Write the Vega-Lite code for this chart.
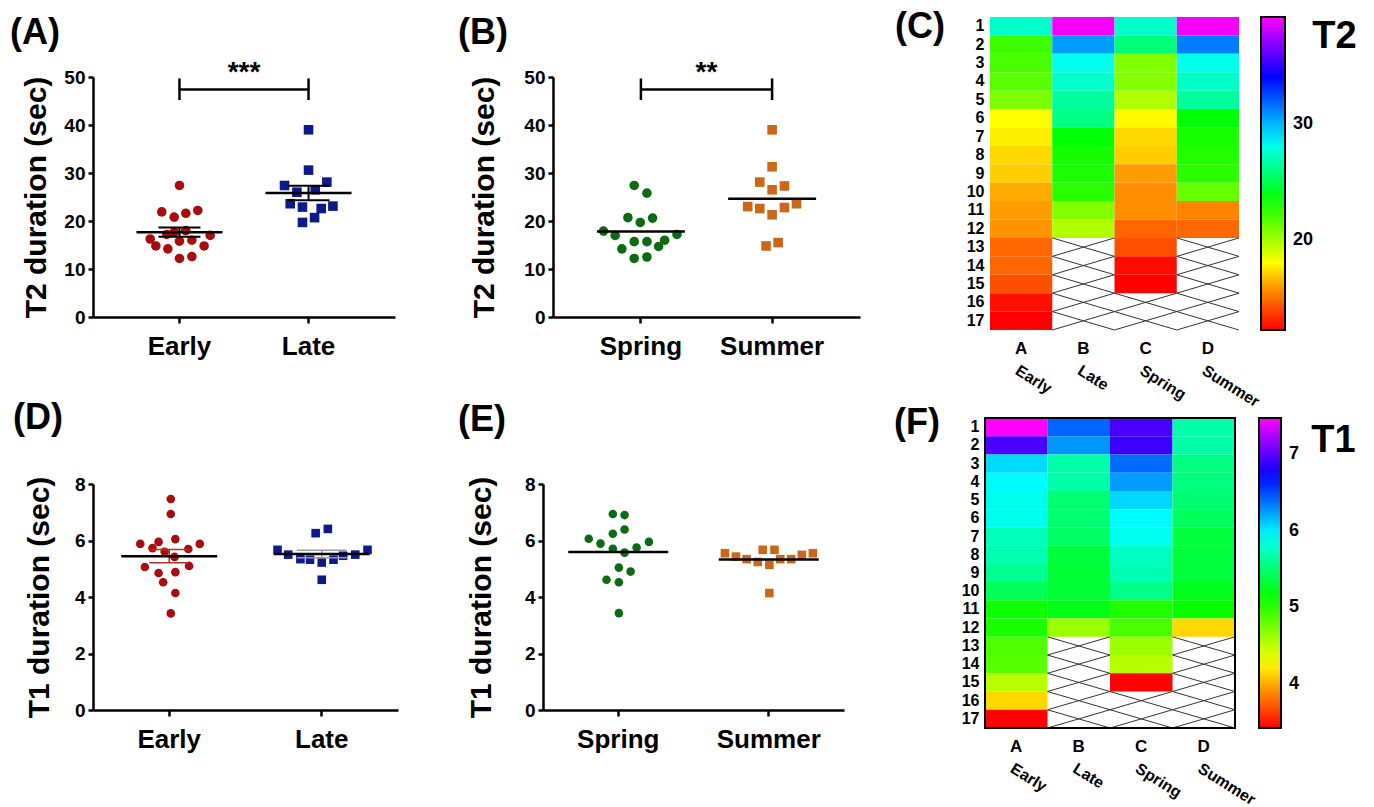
{
  "$schema": "https://vega.github.io/schema/vega-lite/v6.json",
  "background": "white",
  "padding": {"left": 10, "top": 9, "right": 5, "bottom": 0},
  "datasets": {
    "pts": [
      {"m":"T2","g":"Early","dx":0,"v":27.4},{"m":"T2","g":"Early","dx":-0.137,"v":21.9},{"m":"T2","g":"Early","dx":-0.041,"v":20.8},{"m":"T2","g":"Early","dx":0.049,"v":21.6},{"m":"T2","g":"Early","dx":0.142,"v":22.2},{"m":"T2","g":"Early","dx":-0.041,"v":17.7},{"m":"T2","g":"Early","dx":0.049,"v":18.0},{"m":"T2","g":"Early","dx":0.238,"v":17.0},{"m":"T2","g":"Early","dx":-0.227,"v":16.25},{"m":"T2","g":"Early","dx":0.096,"v":16.0},{"m":"T2","g":"Early","dx":0,"v":15.8},{"m":"T2","g":"Early","dx":-0.183,"v":14.8},{"m":"T2","g":"Early","dx":0.191,"v":14.8},{"m":"T2","g":"Early","dx":-0.09,"v":14.2},{"m":"T2","g":"Early","dx":0.096,"v":12.6},{"m":"T2","g":"Early","dx":0,"v":12.2},{"m":"T2","g":"Early","dx":-0.098,"v":17.2},
      {"m":"T2","g":"Late","dx":0,"v":39.0},{"m":"T2","g":"Late","dx":0,"v":30.6},{"m":"T2","g":"Late","dx":-0.186,"v":27.4},{"m":"T2","g":"Late","dx":0.142,"v":28.1},{"m":"T2","g":"Late","dx":-0.09,"v":26.0},{"m":"T2","g":"Late","dx":0.052,"v":26.5},{"m":"T2","g":"Late","dx":-0.142,"v":23.6},{"m":"T2","g":"Late","dx":-0.047,"v":22.9},{"m":"T2","g":"Late","dx":0.098,"v":22.6},{"m":"T2","g":"Late","dx":0.189,"v":23.1},{"m":"T2","g":"Late","dx":-0.047,"v":19.7},{"m":"T2","g":"Late","dx":0.047,"v":20.7},
      {"m":"T2","g":"Spring","dx":-0.051,"v":27.4},{"m":"T2","g":"Spring","dx":0.046,"v":25.8},{"m":"T2","g":"Spring","dx":-0.099,"v":20.7},{"m":"T2","g":"Spring","dx":-0.005,"v":19.7},{"m":"T2","g":"Spring","dx":0.089,"v":20.6},{"m":"T2","g":"Spring","dx":-0.285,"v":17.9},{"m":"T2","g":"Spring","dx":-0.196,"v":17.0},{"m":"T2","g":"Spring","dx":-0.051,"v":15.7},{"m":"T2","g":"Spring","dx":0.046,"v":15.7},{"m":"T2","g":"Spring","dx":0.181,"v":16.0},{"m":"T2","g":"Spring","dx":0.275,"v":17.2},{"m":"T2","g":"Spring","dx":-0.145,"v":14.2},{"m":"T2","g":"Spring","dx":0.135,"v":14.7},{"m":"T2","g":"Spring","dx":-0.051,"v":12.2},{"m":"T2","g":"Spring","dx":0.046,"v":12.5},
      {"m":"T2","g":"Summer","dx":0,"v":39.0},{"m":"T2","g":"Summer","dx":0,"v":31.3},{"m":"T2","g":"Summer","dx":-0.094,"v":28.1},{"m":"T2","g":"Summer","dx":0.094,"v":27.3},{"m":"T2","g":"Summer","dx":0,"v":26.5},{"m":"T2","g":"Summer","dx":-0.186,"v":23.0},{"m":"T2","g":"Summer","dx":-0.094,"v":22.6},{"m":"T2","g":"Summer","dx":0.094,"v":22.8},{"m":"T2","g":"Summer","dx":0.186,"v":23.6},{"m":"T2","g":"Summer","dx":0,"v":21.3},{"m":"T2","g":"Summer","dx":-0.046,"v":14.8},{"m":"T2","g":"Summer","dx":0.046,"v":15.5},
      {"m":"T1","g":"Early","dx":0.01,"v":7.47},{"m":"T1","g":"Early","dx":0.01,"v":6.94},{"m":"T1","g":"Early","dx":0.04,"v":6.05},{"m":"T1","g":"Early","dx":-0.07,"v":5.95},{"m":"T1","g":"Early","dx":-0.19,"v":5.88},{"m":"T1","g":"Early","dx":0.2,"v":5.88},{"m":"T1","g":"Early","dx":-0.11,"v":5.73},{"m":"T1","g":"Early","dx":0.125,"v":5.70},{"m":"T1","g":"Early","dx":-0.03,"v":5.60},{"m":"T1","g":"Early","dx":0.035,"v":5.42},{"m":"T1","g":"Early","dx":0.13,"v":5.10},{"m":"T1","g":"Early","dx":-0.16,"v":5.06},{"m":"T1","g":"Early","dx":0.04,"v":4.88},{"m":"T1","g":"Early","dx":-0.07,"v":4.85},{"m":"T1","g":"Early","dx":-0.04,"v":4.52},{"m":"T1","g":"Early","dx":0.04,"v":4.14},{"m":"T1","g":"Early","dx":0.01,"v":3.42},
      {"m":"T1","g":"Late","dx":0.04,"v":6.41},{"m":"T1","g":"Late","dx":-0.04,"v":6.26},{"m":"T1","g":"Late","dx":-0.29,"v":5.67},{"m":"T1","g":"Late","dx":0.3,"v":5.67},{"m":"T1","g":"Late","dx":-0.22,"v":5.50},{"m":"T1","g":"Late","dx":-0.14,"v":5.34},{"m":"T1","g":"Late","dx":-0.077,"v":5.32},{"m":"T1","g":"Late","dx":0,"v":5.22},{"m":"T1","g":"Late","dx":0.077,"v":5.32},{"m":"T1","g":"Late","dx":0.14,"v":5.46},{"m":"T1","g":"Late","dx":0.22,"v":5.50},{"m":"T1","g":"Late","dx":0,"v":4.61},
      {"m":"T1","g":"Spring","dx":-0.036,"v":6.94},{"m":"T1","g":"Spring","dx":0.042,"v":6.90},{"m":"T1","g":"Spring","dx":0.042,"v":6.39},{"m":"T1","g":"Spring","dx":-0.036,"v":6.24},{"m":"T1","g":"Spring","dx":-0.196,"v":6.06},{"m":"T1","g":"Spring","dx":-0.118,"v":5.89},{"m":"T1","g":"Spring","dx":0.204,"v":5.95},{"m":"T1","g":"Spring","dx":-0.036,"v":5.71},{"m":"T1","g":"Spring","dx":0.122,"v":5.75},{"m":"T1","g":"Spring","dx":0.042,"v":5.57},{"m":"T1","g":"Spring","dx":0.004,"v":5.04},{"m":"T1","g":"Spring","dx":0.082,"v":4.90},{"m":"T1","g":"Spring","dx":-0.078,"v":4.61},{"m":"T1","g":"Spring","dx":0.004,"v":4.52},{"m":"T1","g":"Spring","dx":0.004,"v":3.43},
      {"m":"T1","g":"Summer","dx":-0.291,"v":5.55},{"m":"T1","g":"Summer","dx":-0.218,"v":5.43},{"m":"T1","g":"Summer","dx":-0.147,"v":5.34},{"m":"T1","g":"Summer","dx":-0.073,"v":5.24},{"m":"T1","g":"Summer","dx":-0.04,"v":5.67},{"m":"T1","g":"Summer","dx":0.038,"v":5.67},{"m":"T1","g":"Summer","dx":0.004,"v":5.14},{"m":"T1","g":"Summer","dx":0.076,"v":5.34},{"m":"T1","g":"Summer","dx":0.149,"v":5.34},{"m":"T1","g":"Summer","dx":0.22,"v":5.49},{"m":"T1","g":"Summer","dx":0.293,"v":5.55},{"m":"T1","g":"Summer","dx":0.004,"v":4.14}
    ],
    "miss": [
      {"g":"Late","r":13},{"g":"Late","r":14},{"g":"Late","r":15},{"g":"Late","r":16},{"g":"Late","r":17},
      {"g":"Spring","r":16},{"g":"Spring","r":17},
      {"g":"Summer","r":13},{"g":"Summer","r":14},{"g":"Summer","r":15},{"g":"Summer","r":16},{"g":"Summer","r":17}
    ],
    "brk": [
      {"p":"A","g":"Early","lo":45.2,"hi":49.7,"y":47.4},{"p":"A","g":"Late","lo":45.2,"hi":49.7,"y":47.4},
      {"p":"B","g":"Spring","lo":45.2,"hi":49.7,"y":47.4},{"p":"B","g":"Summer","lo":45.2,"hi":49.7,"y":47.4}
    ]
  },
  "vconcat": [
    {
      "hconcat": [
        {
          "hconcat": [
            {
              "width": 302, "height": 240,
              "title": {"text": "(A)", "dx": -83, "offset": 7},
              "layer": [
                {
                  "data": {"name": "pts"},
                  "transform": [{"filter": "datum.m == 'T2' && (datum.g == 'Early' || datum.g == 'Late')"}],
                  "mark": {"type": "point", "filled": true, "opacity": 1, "size": 92, "strokeWidth": 0},
                  "encoding": {
                    "x": {"field": "g", "type": "nominal", "title": null, "scale": {"domain": ["Early","Late"], "paddingInner": 0, "paddingOuter": 0.17},
                          "axis": {"labelAngle": 0, "labelFontSize": 26, "tickSize": 6, "tickWidth": 2.5, "domainWidth": 2.5, "labelPadding": 10}},
                    "xOffset": {"field": "dx", "type": "quantitative", "scale": {"domain": [-0.5, 0.5]}},
                    "y": {"field": "v", "type": "quantitative", "title": "T2 duration (sec)", "scale": {"domain": [0, 50], "nice": false},
                          "axis": {"values": [0,10,20,30,40,50], "tickSize": 5, "tickWidth": 2.5, "domainWidth": 2.5, "labelFontSize": 19, "labelPadding": 3, "titleFontSize": 30, "titlePadding": 12}},
                    "color": {"field": "g", "type": "nominal", "scale": {"domain": ["Early","Late","Spring","Summer"], "range": ["#a80c0c","#0c1a8a","#0b6a12","#cc6618"]}, "legend": null},
                    "shape": {"field": "g", "type": "nominal", "scale": {"domain": ["Early","Late","Spring","Summer"], "range": ["circle","square","circle","square"]}, "legend": null}
                  }
                },
                {
                  "data": {"name": "pts"},
                  "transform": [{"filter": "datum.m == 'T2' && (datum.g == 'Early' || datum.g == 'Late')"}],
                  "mark": {"type": "errorbar", "extent": "stderr", "ticks": true, "size": 42, "thickness": 2, "color": "black", "opacity": 1},
                  "encoding": {
                    "x": {"field": "g", "type": "nominal", "title": null},
                    "y": {"field": "v", "type": "quantitative", "title": "T2 duration (sec)"}
                  }
                },
                {
                  "data": {"name": "pts"},
                  "transform": [{"filter": "datum.m == 'T2' && (datum.g == 'Early' || datum.g == 'Late')"}],
                  "mark": {"type": "tick", "orient": "horizontal", "size": 86, "thickness": 2.5, "color": "black", "opacity": 1},
                  "encoding": {
                    "x": {"field": "g", "type": "nominal", "title": null},
                    "y": {"aggregate": "mean", "field": "v", "type": "quantitative", "title": "T2 duration (sec)"}
                  }
                },
                {
                  "data": {"name": "brk"},
                  "transform": [{"filter": "datum.p == 'A'"}],
                  "mark": {"type": "rule", "strokeWidth": 2.5, "color": "black"},
                  "encoding": {
                    "x": {"field": "g", "type": "nominal", "title": null},
                    "y": {"field": "lo", "type": "quantitative", "title": "T2 duration (sec)"},
                    "y2": {"field": "hi"}
                  }
                },
                {
                  "data": {"name": "brk"},
                  "transform": [{"filter": "datum.p == 'A'"}],
                  "mark": {"type": "line", "strokeWidth": 2.5, "color": "black"},
                  "encoding": {
                    "x": {"field": "g", "type": "nominal", "title": null},
                    "y": {"field": "y", "type": "quantitative", "title": "T2 duration (sec)"}
                  }
                },
                {
                  "data": {"values": [{"t": "***"}]},
                  "mark": {"type": "text", "fontSize": 28, "fontWeight": "bold", "baseline": "middle", "color": "black"},
                  "encoding": {
                    "x": {"datum": "Late", "type": "nominal", "bandPosition": 0, "title": null},
                    "y": {"datum": 50.8, "type": "quantitative", "title": "T2 duration (sec)"},
                    "text": {"field": "t"}
                  }
                }
              ]
            },
            {
              "width": 307, "height": 240,
              "title": {"text": "(B)", "dx": -95, "offset": 7},
              "layer": [
                {
                  "data": {"name": "pts"},
                  "transform": [{"filter": "datum.m == 'T2' && (datum.g == 'Spring' || datum.g == 'Summer')"}],
                  "mark": {"type": "point", "filled": true, "opacity": 1, "size": 92, "strokeWidth": 0},
                  "encoding": {
                    "x": {"field": "g", "type": "nominal", "title": null, "scale": {"domain": ["Spring","Summer"], "paddingInner": 0, "paddingOuter": 0.17},
                          "axis": {"labelAngle": 0, "labelFontSize": 26, "tickSize": 6, "tickWidth": 2.5, "domainWidth": 2.5, "labelPadding": 10}},
                    "xOffset": {"field": "dx", "type": "quantitative", "scale": {"domain": [-0.5, 0.5]}},
                    "y": {"field": "v", "type": "quantitative", "title": "T2 duration (sec)", "scale": {"domain": [0, 50], "nice": false},
                          "axis": {"values": [0,10,20,30,40,50], "tickSize": 5, "tickWidth": 2.5, "domainWidth": 2.5, "labelFontSize": 19, "labelPadding": 3, "titleFontSize": 30, "titlePadding": 24}},
                    "color": {"field": "g", "type": "nominal", "scale": {"domain": ["Early","Late","Spring","Summer"], "range": ["#a80c0c","#0c1a8a","#0b6a12","#cc6618"]}, "legend": null},
                    "shape": {"field": "g", "type": "nominal", "scale": {"domain": ["Early","Late","Spring","Summer"], "range": ["circle","square","circle","square"]}, "legend": null}
                  }
                },
                {
                  "data": {"name": "pts"},
                  "transform": [{"filter": "datum.m == 'T2' && (datum.g == 'Spring' || datum.g == 'Summer')"}],
                  "mark": {"type": "tick", "orient": "horizontal", "size": 88, "thickness": 2.5, "color": "black", "opacity": 1},
                  "encoding": {
                    "x": {"field": "g", "type": "nominal", "title": null},
                    "y": {"aggregate": "mean", "field": "v", "type": "quantitative", "title": "T2 duration (sec)"}
                  }
                },
                {
                  "data": {"name": "brk"},
                  "transform": [{"filter": "datum.p == 'B'"}],
                  "mark": {"type": "rule", "strokeWidth": 2.5, "color": "black"},
                  "encoding": {
                    "x": {"field": "g", "type": "nominal", "title": null},
                    "y": {"field": "lo", "type": "quantitative", "title": "T2 duration (sec)"},
                    "y2": {"field": "hi"}
                  }
                },
                {
                  "data": {"name": "brk"},
                  "transform": [{"filter": "datum.p == 'B'"}],
                  "mark": {"type": "line", "strokeWidth": 2.5, "color": "black"},
                  "encoding": {
                    "x": {"field": "g", "type": "nominal", "title": null},
                    "y": {"field": "y", "type": "quantitative", "title": "T2 duration (sec)"}
                  }
                },
                {
                  "data": {"values": [{"t": "**"}]},
                  "mark": {"type": "text", "fontSize": 28, "fontWeight": "bold", "baseline": "middle", "color": "black"},
                  "encoding": {
                    "x": {"datum": "Summer", "type": "nominal", "bandPosition": 0, "title": null},
                    "y": {"datum": 50.8, "type": "quantitative", "title": "T2 duration (sec)"},
                    "text": {"field": "t"}
                  }
                }
              ]
            }
          ],
          "spacing": 63,
          "resolve": {"scale": {"color": "independent", "shape": "independent", "xOffset": "independent"}}
        },
        {
          "title": {"text": "(C)", "dx": -95, "offset": -29},
          "hconcat": [
            {
              "width": 249, "height": 253,
              "title": {"text": "T2", "anchor": "end", "frame": "bounds", "fontSize": 38, "offset": -39, "dx": 95},
              "layer": [
                {
                  "data": {"name": "pts"},
                  "transform": [{"filter": "datum.m == 'T2'"}, {"window": [{"op": "row_number", "as": "rank"}], "groupby": ["g"], "sort": [{"field": "v", "order": "descending"}]}],
                  "mark": {"type": "rect"},
                  "encoding": {
                    "x": {"field": "g", "type": "nominal", "title": null, "scale": {"domain": ["Early","Late","Spring","Summer"], "paddingInner": 0, "paddingOuter": 0},
                          "axis": {"orient": "bottom", "labelExpr": "datum.value == 'Early' ? 'A' : datum.value == 'Late' ? 'B' : datum.value == 'Spring' ? 'C' : 'D'", "labelAngle": 0, "labelFontSize": 17, "labelPadding": 10, "ticks": false, "domain": false}},
                    "y": {"field": "rank", "type": "ordinal", "title": null, "scale": {"domain": [1,2,3,4,5,6,7,8,9,10,11,12,13,14,15,16,17], "range": [-60, 253], "paddingInner": 0, "paddingOuter": 0},
                          "axis": {"labelFontSize": 16, "labelPadding": 6, "ticks": false, "domain": false, "labelAngle": 0}},
                    "color": {"field": "v", "type": "quantitative",
                              "scale": {"domain": [12.2, 15.4, 18.0, 23.5, 28.4, 34.1, 39.2], "range": ["#ff0000","#ff8000","#ffff00","#00ff00","#00ffff","#0000ff","#ff00ff"], "interpolate": "rgb"},
                              "legend": {"title": null, "orient": "none", "legendX": 271, "legendY": -60, "padding": 0, "direction": "vertical", "gradientLength": 313, "gradientThickness": 24, "gradientStrokeColor": "black", "gradientStrokeWidth": 2, "values": [20, 30], "labelFontSize": 18, "labelOffset": 8}}
                  }
                },
                {
                  "data": {"name": "miss"},
                  "mark": {"type": "rule", "color": "#333333", "strokeWidth": 1},
                  "encoding": {
                    "x": {"field": "g", "type": "nominal", "bandPosition": 0, "title": null, "axis": null},
                    "x2": {"field": "g", "bandPosition": 1},
                    "y": {"field": "r", "type": "ordinal", "bandPosition": 0, "title": null},
                    "y2": {"field": "r", "bandPosition": 1}
                  }
                },
                {
                  "data": {"name": "miss"},
                  "mark": {"type": "rule", "color": "#333333", "strokeWidth": 1},
                  "encoding": {
                    "x": {"field": "g", "type": "nominal", "bandPosition": 0, "title": null,
                          "axis": {"orient": "bottom", "offset": 32, "labelAngle": 32, "labelAlign": "left", "labelBaseline": "top", "labelFontSize": 16, "labelPadding": 0, "ticks": false, "domain": false}},
                    "x2": {"field": "g", "bandPosition": 1},
                    "y": {"field": "r", "type": "ordinal", "bandPosition": 1, "title": null},
                    "y2": {"field": "r", "bandPosition": 0}
                  }
                }
              ],
              "resolve": {"axis": {"x": "independent"}}
            }
          ]
        }
      ],
      "spacing": 35,
      "resolve": {"scale": {"color": "independent", "shape": "independent", "xOffset": "independent"}, "legend": {"color": "independent"}}
    },
    {
      "hconcat": [
        {
          "hconcat": [
            {
              "width": 305, "height": 226,
              "title": {"text": "(D)", "dx": -80, "offset": 38},
              "layer": [
                {
                  "data": {"name": "pts"},
                  "transform": [{"filter": "datum.m == 'T1' && (datum.g == 'Early' || datum.g == 'Late')"}],
                  "mark": {"type": "point", "filled": true, "opacity": 1, "size": 74, "strokeWidth": 0},
                  "encoding": {
                    "x": {"field": "g", "type": "nominal", "title": null, "scale": {"domain": ["Early","Late"], "paddingInner": 0, "paddingOuter": 0},
                          "axis": {"labelAngle": 0, "labelFontSize": 26, "tickSize": 6, "tickWidth": 2.5, "domainWidth": 2.5, "labelPadding": 10}},
                    "xOffset": {"field": "dx", "type": "quantitative", "scale": {"domain": [-0.5, 0.5]}},
                    "y": {"field": "v", "type": "quantitative", "title": "T1 duration (sec)", "scale": {"domain": [0, 8], "nice": false},
                          "axis": {"values": [0,2,4,6,8], "tickSize": 5, "tickWidth": 2.5, "domainWidth": 2.5, "labelFontSize": 19, "labelPadding": 3, "titleFontSize": 30, "titlePadding": 20}},
                    "color": {"field": "g", "type": "nominal", "scale": {"domain": ["Early","Late","Spring","Summer"], "range": ["#a80c0c","#0c1a8a","#0b6a12","#cc6618"]}, "legend": null},
                    "shape": {"field": "g", "type": "nominal", "scale": {"domain": ["Early","Late","Spring","Summer"], "range": ["circle","square","circle","square"]}, "legend": null}
                  }
                },
                {
                  "data": {"name": "pts"},
                  "transform": [{"filter": "datum.m == 'T1' && datum.g == 'Early'"}],
                  "mark": {"type": "errorbar", "extent": "stderr", "ticks": true, "size": 40, "thickness": 1.5, "color": "#b0302a", "opacity": 1},
                  "encoding": {
                    "x": {"field": "g", "type": "nominal", "title": null},
                    "y": {"field": "v", "type": "quantitative", "title": "T1 duration (sec)"}
                  }
                },
                {
                  "data": {"name": "pts"},
                  "transform": [{"filter": "datum.m == 'T1' && datum.g == 'Late'"}],
                  "mark": {"type": "errorbar", "extent": "stderr", "ticks": true, "size": 50, "thickness": 1.5, "color": "#9a9aa8", "opacity": 1},
                  "encoding": {
                    "x": {"field": "g", "type": "nominal", "title": null},
                    "y": {"field": "v", "type": "quantitative", "title": "T1 duration (sec)"}
                  }
                },
                {
                  "data": {"name": "pts"},
                  "transform": [{"filter": "datum.m == 'T1' && (datum.g == 'Early' || datum.g == 'Late')"}],
                  "mark": {"type": "tick", "orient": "horizontal", "size": 96, "thickness": 2.5, "color": "black", "opacity": 1},
                  "encoding": {
                    "x": {"field": "g", "type": "nominal", "title": null},
                    "y": {"aggregate": "mean", "field": "v", "type": "quantitative", "title": "T1 duration (sec)"}
                  }
                }
              ]
            },
            {
              "width": 301, "height": 226,
              "title": {"text": "(E)", "dx": -85, "offset": 36},
              "layer": [
                {
                  "data": {"name": "pts"},
                  "transform": [{"filter": "datum.m == 'T1' && (datum.g == 'Spring' || datum.g == 'Summer')"}],
                  "mark": {"type": "point", "filled": true, "opacity": 1, "size": 74, "strokeWidth": 0},
                  "encoding": {
                    "x": {"field": "g", "type": "nominal", "title": null, "scale": {"domain": ["Spring","Summer"], "paddingInner": 0, "paddingOuter": 0},
                          "axis": {"labelAngle": 0, "labelFontSize": 26, "tickSize": 6, "tickWidth": 2.5, "domainWidth": 2.5, "labelPadding": 10}},
                    "xOffset": {"field": "dx", "type": "quantitative", "scale": {"domain": [-0.5, 0.5]}},
                    "y": {"field": "v", "type": "quantitative", "title": "T1 duration (sec)", "scale": {"domain": [0, 8], "nice": false},
                          "axis": {"values": [0,2,4,6,8], "tickSize": 5, "tickWidth": 2.5, "domainWidth": 2.5, "labelFontSize": 19, "labelPadding": 3, "titleFontSize": 30, "titlePadding": 28}},
                    "color": {"field": "g", "type": "nominal", "scale": {"domain": ["Early","Late","Spring","Summer"], "range": ["#a80c0c","#0c1a8a","#0b6a12","#cc6618"]}, "legend": null},
                    "shape": {"field": "g", "type": "nominal", "scale": {"domain": ["Early","Late","Spring","Summer"], "range": ["circle","square","circle","square"]}, "legend": null}
                  }
                },
                {
                  "data": {"name": "pts"},
                  "transform": [{"filter": "datum.m == 'T1' && (datum.g == 'Spring' || datum.g == 'Summer')"}],
                  "mark": {"type": "tick", "orient": "horizontal", "size": 100, "thickness": 2.5, "color": "black", "opacity": 1},
                  "encoding": {
                    "x": {"field": "g", "type": "nominal", "title": null},
                    "y": {"aggregate": "mean", "field": "v", "type": "quantitative", "title": "T1 duration (sec)"}
                  }
                }
              ]
            }
          ],
          "spacing": 60,
          "resolve": {"scale": {"color": "independent", "shape": "independent", "xOffset": "independent"}}
        },
        {
          "title": {"text": "(F)", "dx": -91, "offset": -25},
          "hconcat": [
            {
              "width": 250, "height": 244,
              "title": {"text": "T1", "anchor": "end", "frame": "bounds", "fontSize": 38, "offset": -43, "dx": 98},
              "layer": [
                {
                  "data": {"name": "pts"},
                  "transform": [{"filter": "datum.m == 'T1'"}, {"window": [{"op": "row_number", "as": "rank"}], "groupby": ["g"], "sort": [{"field": "v", "order": "descending"}]}],
                  "mark": {"type": "rect"},
                  "encoding": {
                    "x": {"field": "g", "type": "nominal", "title": null, "scale": {"domain": ["Early","Late","Spring","Summer"], "paddingInner": 0, "paddingOuter": 0},
                          "axis": {"orient": "bottom", "labelExpr": "datum.value == 'Early' ? 'A' : datum.value == 'Late' ? 'B' : datum.value == 'Spring' ? 'C' : 'D'", "labelAngle": 0, "labelFontSize": 17, "labelPadding": 10, "ticks": false, "domain": false}},
                    "y": {"field": "rank", "type": "ordinal", "title": null, "scale": {"domain": [1,2,3,4,5,6,7,8,9,10,11,12,13,14,15,16,17], "range": [-66, 244], "paddingInner": 0, "paddingOuter": 0},
                          "axis": {"labelFontSize": 16, "labelPadding": 6, "ticks": false, "domain": false, "labelAngle": 0}},
                    "color": {"field": "v", "type": "quantitative",
                              "scale": {"domain": [3.42, 3.85, 4.27, 5.15, 5.94, 6.72, 7.47], "range": ["#ff0000","#ff8000","#ffff00","#00ff00","#00ffff","#0000ff","#ff00ff"], "interpolate": "rgb"},
                              "legend": {"title": null, "orient": "none", "legendX": 274, "legendY": -66, "padding": 0, "direction": "vertical", "gradientLength": 310, "gradientThickness": 22, "gradientStrokeColor": "black", "gradientStrokeWidth": 2, "values": [4, 5, 6, 7], "format": "d", "labelFontSize": 18, "labelOffset": 8}}
                  }
                },
                {
                  "data": {"name": "miss"},
                  "mark": {"type": "rule", "color": "#333333", "strokeWidth": 1},
                  "encoding": {
                    "x": {"field": "g", "type": "nominal", "bandPosition": 0, "title": null, "axis": null},
                    "x2": {"field": "g", "bandPosition": 1},
                    "y": {"field": "r", "type": "ordinal", "bandPosition": 0, "title": null},
                    "y2": {"field": "r", "bandPosition": 1}
                  }
                },
                {
                  "data": {"name": "miss"},
                  "mark": {"type": "rule", "color": "#333333", "strokeWidth": 1},
                  "encoding": {
                    "x": {"field": "g", "type": "nominal", "bandPosition": 0, "title": null,
                          "axis": {"orient": "bottom", "offset": 32, "labelAngle": 32, "labelAlign": "left", "labelBaseline": "top", "labelFontSize": 16, "labelPadding": 0, "ticks": false, "domain": false}},
                    "x2": {"field": "g", "bandPosition": 1},
                    "y": {"field": "r", "type": "ordinal", "bandPosition": 1, "title": null},
                    "y2": {"field": "r", "bandPosition": 0}
                  }
                },
                {
                  "data": {"values": [{"f": 1}]},
                  "mark": {"type": "rect", "fillOpacity": 0, "stroke": "black", "strokeWidth": 2},
                  "encoding": {
                    "x": {"datum": "Early", "type": "nominal", "bandPosition": 0, "title": null, "axis": null},
                    "x2": {"datum": "Summer", "bandPosition": 1},
                    "y": {"datum": 1, "type": "ordinal", "bandPosition": 0, "title": null},
                    "y2": {"datum": 17, "bandPosition": 1}
                  }
                }
              ],
              "resolve": {"axis": {"x": "independent"}}
            }
          ]
        }
      ],
      "spacing": 50,
      "resolve": {"scale": {"color": "independent", "shape": "independent", "xOffset": "independent"}, "legend": {"color": "independent"}}
    }
  ],
  "spacing": -10,
  "resolve": {"scale": {"color": "independent", "shape": "independent", "xOffset": "independent"}, "legend": {"color": "independent"}},
  "config": {
    "font": "Liberation Sans",
    "view": {"stroke": null},
    "axis": {"grid": false, "labelFontWeight": "bold", "titleFontWeight": "bold", "labelColor": "black", "titleColor": "black", "domainColor": "black", "tickColor": "black", "labelFont": "Liberation Sans", "titleFont": "Liberation Sans"},
    "title": {"fontSize": 36, "fontWeight": "bold", "color": "black", "anchor": "start", "frame": "group", "font": "Liberation Sans"},
    "legend": {"labelFontWeight": "bold", "labelColor": "black", "titleColor": "black", "titleFontWeight": "bold", "labelFont": "Liberation Sans", "titleFont": "Liberation Sans"}
  }
}
